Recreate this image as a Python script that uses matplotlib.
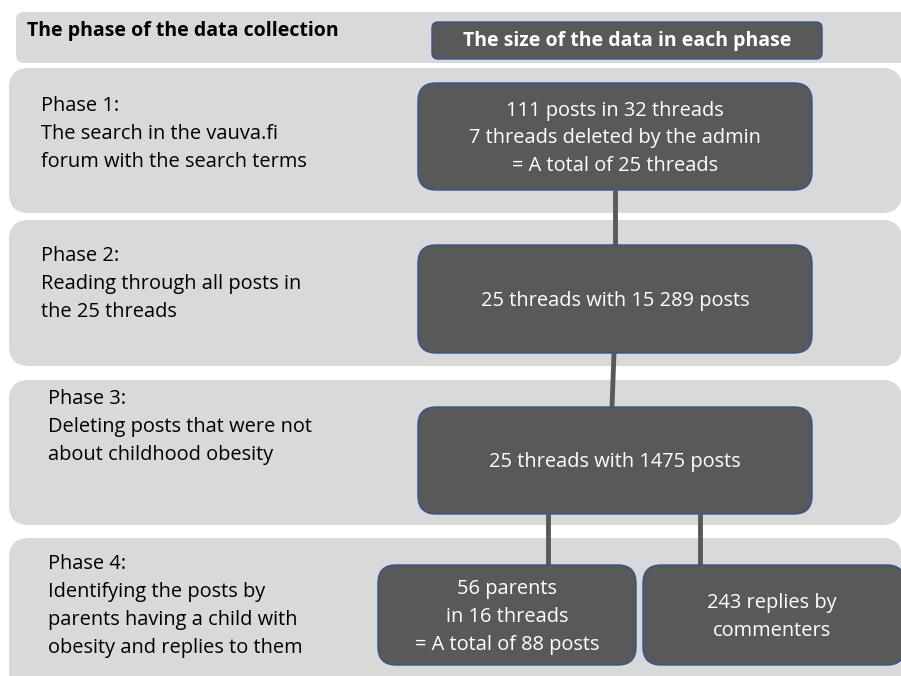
import matplotlib
matplotlib.use('Agg')
import matplotlib.pyplot as plt
from matplotlib.patches import FancyBboxPatch

# text content of the flowchart
header_left = 'The phase of the data collection'
header_right = 'The size of the data in each phase'
phase_texts = [
    'Phase 1:\nThe search in the vauva.fi\nforum with the search terms',
    'Phase 2:\nReading through all posts in\nthe 25 threads',
    'Phase 3:\nDeleting posts that were not\nabout childhood obesity',
    'Phase 4:\nIdentifying the posts by\nparents having a child with\nobesity and replies to them',
]
size_texts = [
    '111 posts in 32 threads\n7 threads deleted by the admin\n= A total of 25 threads',
    '25 threads with 15 289 posts',
    '25 threads with 1475 posts',
    '56 parents\nin 16 threads\n= A total of 88 posts',
    '243 replies by\ncommenters',
]

band_col = '#d9d9d9'
box_col = '#595959'
edge_col = '#2f5597'
font = 'Open Sans'

fig = plt.figure(figsize=(9.01, 6.76), dpi=100)
ax = fig.add_axes([0, 0, 1, 1])
ax.set_xlim(0, 901)
ax.set_ylim(676, 0)
ax.axis('off')


def rbox(x0, y0, x1, y1, fc, r, ec='none', lw=0, z=1):
    p = FancyBboxPatch((x0, y0), x1 - x0, y1 - y0,
                       boxstyle='round,pad=0,rounding_size=%d' % r,
                       fc=fc, ec=ec, lw=lw, zorder=z)
    ax.add_patch(p)


# light background bands
rbox(16, 12, 915, 63, band_col, 8)
bands = [(68, 213), (220, 366), (380, 525), (538, 700)]
for y0, y1 in bands:
    rbox(9, y0, 902, y1, band_col, 20)

# header texts
ax.text(27, 31, header_left, fontsize=14, fontweight='bold', family=font,
        va='center', ha='left')
rbox(432, 22, 822, 59, box_col, 6, edge_col, 1, 3)
ax.text(627, 41, header_right, fontsize=14, fontweight='bold', family=font,
        color='white', va='center', ha='center', zorder=4)

# phase descriptions
phase_pos = [(41, 134), (41, 284), (48, 427), (48, 606)]
for (x, y), t in zip(phase_pos, phase_texts):
    ax.text(x, y, t, fontsize=14.4, family=font, va='center', ha='left',
            linespacing=1.52)

# connectors
lines = [((615, 190), (615, 245)), ((614, 353), (612, 407)),
         ((548, 514), (548, 565)), ((700, 514), (700, 565))]
for (xa, ya), (xb, yb) in lines:
    ax.plot([xa, xb], [ya, yb], color=box_col, lw=3.5, zorder=2,
            solid_capstyle='butt')

# dark size boxes
boxes = [(418, 83, 812, 190), (418, 245, 812, 353), (418, 407, 812, 514),
         (378, 565, 636, 665), (643, 565, 905, 665)]
for (x0, y0, x1, y1), t in zip(boxes, size_texts):
    rbox(x0, y0, x1, y1, box_col, 18, edge_col, 1, 3)
    cx = (x0 + min(x1, 900)) / 2
    ax.text(cx, (y0 + y1) / 2 + 2, t, fontsize=14.4, family=font, color='white',
            va='center', ha='center', linespacing=1.52, zorder=4)

fig.savefig('out.png', dpi=100)
